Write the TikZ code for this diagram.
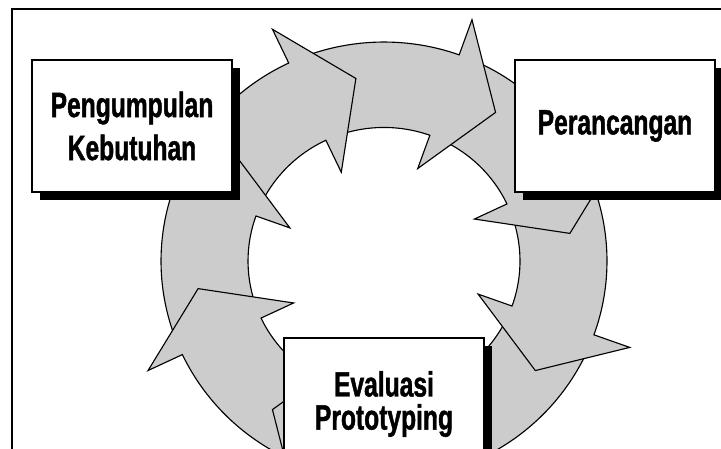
\documentclass[tikz,border=0pt]{standalone}
\usepackage{fontspec}
\newfontfamily\stagefont{Liberation Sans}[FakeStretch=0.7, BoldFeatures={FakeBold=1.2}]
\usetikzlibrary{shadows}

\tikzset{
  stage/.style={draw, line width=1.2pt, fill=white, minimum width=5cm, minimum height=3.3cm,
    align=center, font=\stagefont\bfseries\fontsize{25}{23.5}\selectfont,
    drop shadow={shadow xshift=0.2cm, shadow yshift=-0.2cm, fill=black, opacity=1}},
  ringarrow/.style={draw, line width=0.8pt, fill=gray!40, line join=miter}
}

\begin{document}
\begin{tikzpicture}[x=0.025cm, y=-0.025cm]
  \useasboundingbox (0,0) rectangle (721,448);
  \clip (0,0) rectangle (721,448);
  % frame
  \draw[line width=1.4pt] (12,9) rectangle (740,470);
  % ring of arrows, drawn counterclockwise so each head lies on the next tail
  \begin{scope}[shift={(384,261)}, yscale=-0.982]
    \foreach \b in {-64.7,-19.7,...,250.3}
      \draw[ringarrow] (\b+41:223) arc[start angle=\b+41, end angle=\b, radius=223]
        -- (\b:261) -- (\b-16.7:188) -- (\b:100) -- (\b:136)
        arc[start angle=\b, end angle=\b+41, radius=136] -- cycle;
  \end{scope}
  % stages
  \node[stage] (kebutuhan) at (132,126) {Pengumpulan\\[7.1pt]Kebutuhan};
  \node[stage] (rancang) at (615,126) {Perancangan};
  \node[stage] (evaluasi) at (384,404) {Evaluasi\\Prototyping};
\end{tikzpicture}
\end{document}
